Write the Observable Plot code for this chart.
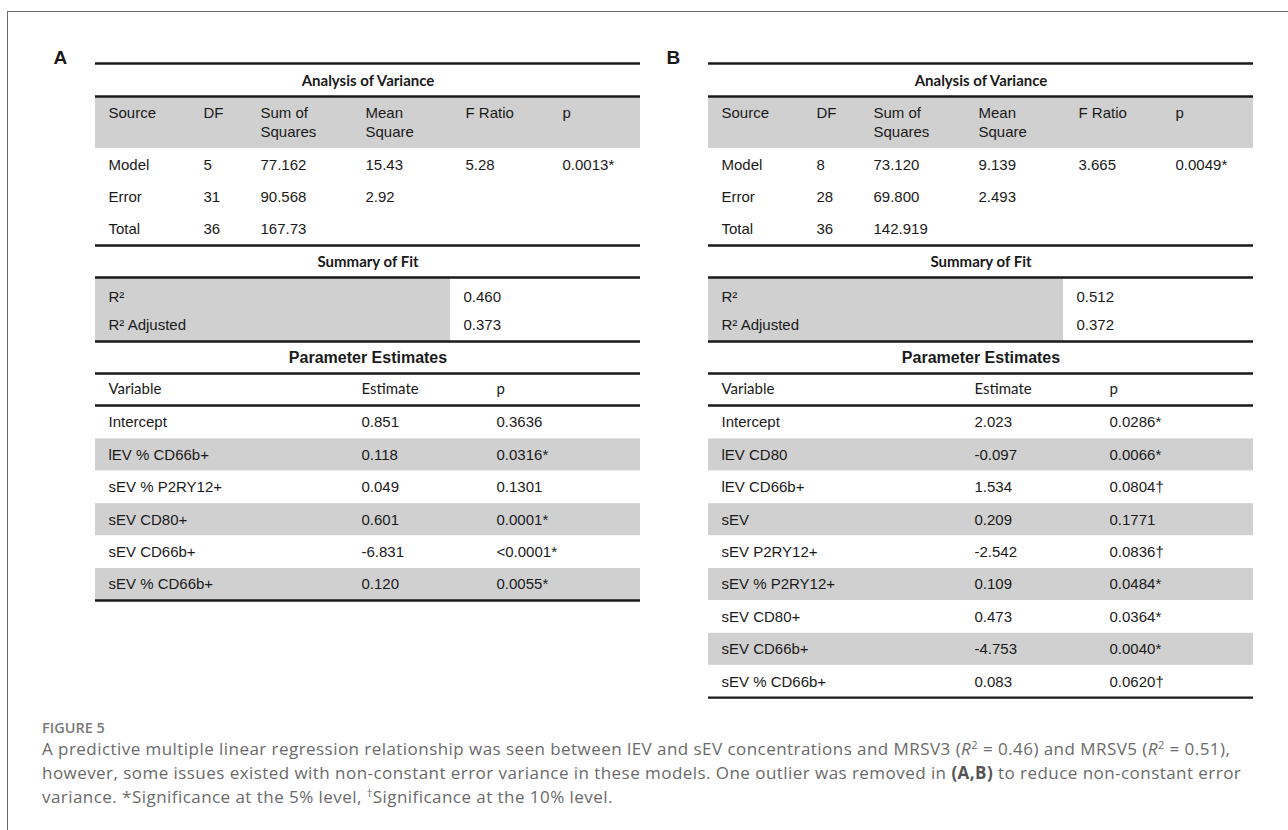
<!DOCTYPE html>
<html><head><meta charset="utf-8">
<script src="https://cdn.jsdelivr.net/npm/d3@7"></script>
<script src="https://cdn.jsdelivr.net/npm/@observablehq/plot@0.6"></script>
<style>
body{margin:0;background:#fff;width:1288px;height:830px;overflow:hidden;position:relative;}
#frame{position:absolute;left:7px;top:11px;width:1300px;height:840px;border-left:1px solid #6a6a6a;border-top:1px solid #6a6a6a;}
#chart{position:absolute;left:0;top:0;}
#caption{position:absolute;left:42px;top:717px;font-family:"Open Sans",sans-serif;color:#6a6a6a;white-space:nowrap;}
#caption .fig{font-size:14.5px;font-weight:600;color:#7a7a7a;line-height:22px;}
#caption .txt{font-size:17px;letter-spacing:0.45px;line-height:24px;margin-top:-2px;}
#caption sup{font-size:0.65em;line-height:0;vertical-align:0;position:relative;top:-0.55em;}
#caption b{color:#555;font-weight:700;}
</style></head>
<body>
<div id="frame"></div>
<div id="chart"></div>
<div id="caption">
<div class="fig">FIGURE 5</div>
<div class="txt">A predictive multiple linear regression relationship was seen between lEV and sEV concentrations and MRSV3 (<i>R</i><sup>2</sup> = 0.46) and MRSV5 (<i>R</i><sup>2</sup> = 0.51),<br>however, some issues existed with non-constant error variance in these models. One outlier was removed in <b>(A,B)</b> to reduce non-constant error<br>variance. *Significance at the 5% level, <sup>†</sup>Significance at the 10% level.</div>
</div>
<script>
// ---------- data ----------
const panelLabels = ["A", "B"];
const sectionTitles = ["Analysis of Variance", "Summary of Fit", "Parameter Estimates"];
const anovaHeaders = ["Source", "DF", "Sum of\nSquares", "Mean\nSquare", "F Ratio", "p"];
const anovaA = [
  ["Model", "5", "77.162", "15.43", "5.28", "0.0013*"],
  ["Error", "31", "90.568", "2.92", "", ""],
  ["Total", "36", "167.73", "", "", ""]
];
const anovaB = [
  ["Model", "8", "73.120", "9.139", "3.665", "0.0049*"],
  ["Error", "28", "69.800", "2.493", "", ""],
  ["Total", "36", "142.919", "", "", ""]
];
const fitLabels = ["R²", "R² Adjusted"];
const fitA = ["0.460", "0.373"];
const fitB = ["0.512", "0.372"];
const paramHeaders = ["Variable", "Estimate", "p"];
const varsA = ["Intercept", "lEV % CD66b+", "sEV % P2RY12+", "sEV CD80+", "sEV CD66b+", "sEV % CD66b+"];
const estA = ["0.851", "0.118", "0.049", "0.601", "-6.831", "0.120"];
const pA = ["0.3636", "0.0316*", "0.1301", "0.0001*", "<0.0001*", "0.0055*"];
const varsB = ["Intercept", "lEV CD80", "lEV CD66b+", "sEV", "sEV P2RY12+", "sEV % P2RY12+", "sEV CD80+", "sEV CD66b+", "sEV % CD66b+"];
const estB = ["2.023", "-0.097", "1.534", "0.209", "-2.542", "0.109", "0.473", "-4.753", "0.083"];
const pB = ["0.0286*", "0.0066*", "0.0804†", "0.1771", "0.0836†", "0.0484*", "0.0364*", "0.0040*", "0.0620†"];

// ---------- layout ----------
const L = {
  panelLeft: [95, 708], tableW: 545, labelDx: -42, labelY: 57,
  topRule: 63, title1Y: 81, bandTop: 96, bandBot: 148, head1Y: 113, head2Y: 132,
  anovaY0: 165, anovaPitch: 32, rule2: 245, title2Y: 262, fitTop: 277, fitY0: 297, fitPitch: 28,
  fitBot: 341, title3Y: 357, rule4: 373, paramHeadY: 389, rule5: 405,
  paramY0: 422, paramPitch: 32.4, rowHalf: 16,
  anovaCols: [13, 108, 165, 270, 370, 467], fitSplit: 355, fitValX: 368, paramCols: [13, 266, 401]
};
const ink = "#1a1a1a", gray = "#d0d0d0";
const arial = "'Liberation Sans', Arial, sans-serif", calibri = "Lato, 'Open Sans', sans-serif";

function panelMarks(p, anova, fit, vars, est, pv) {
  const x0 = L.panelLeft[p], x1 = x0 + L.tableW, cx = (x0 + x1) / 2;
  const rowY = i => L.paramY0 + i * L.paramPitch;
  const lastBottom = rowY(vars.length - 1) + L.rowHalf;
  const rules = [L.topRule, L.bandTop, L.rule2, L.fitTop, L.fitBot, L.rule4, L.rule5, lastBottom].map(y => ({y}));
  const grayRows = vars.map((v, i) => i).filter(i => i % 2 === 1).map(i => ({y1: rowY(i) - L.rowHalf, y2: rowY(i) + L.rowHalf}));
  const anovaCells = anova.flatMap((row, r) => row.map((t, c) => ({x: x0 + L.anovaCols[c], y: L.anovaY0 + r * L.anovaPitch, t})));
  const headCells = anovaHeaders.map((h, c) => ({x: x0 + L.anovaCols[c], a: h.split("\n")[0], b: h.split("\n")[1] || ""}));
  const fitCells = fitLabels.map((f, i) => ({y: L.fitY0 + i * L.fitPitch, f, v: fit[i]}));
  const paramCells = vars.flatMap((v, i) => [v, est[i], pv[i]].map((t, c) => ({x: x0 + L.paramCols[c], y: rowY(i), t})));
  const paramHead = paramHeaders.map((t, c) => ({x: x0 + L.paramCols[c], t}));
  const common = {textAnchor: "start", fill: ink};
  return [
    Plot.rect([{}], {x1: x0, x2: x1, y1: L.bandTop, y2: L.bandBot, fill: gray}),
    Plot.rect([{}], {x1: x0, x2: x0 + L.fitSplit, y1: L.fitTop, y2: L.fitBot, fill: gray}),
    Plot.rect(grayRows, {x1: x0, x2: x1, y1: "y1", y2: "y2", fill: gray}),
    Plot.ruleY(rules, {y: "y", x1: x0, x2: x1, stroke: ink, strokeWidth: 2.3}),
    Plot.text([panelLabels[p]], {x: x0 + L.labelDx, y: L.labelY, text: d => d, ...common, fontFamily: arial, fontWeight: "bold", fontSize: 19}),
    Plot.text([sectionTitles[0]], {x: cx, y: L.title1Y, text: d => d, fill: ink, fontFamily: calibri, fontWeight: "bold", fontSize: 15}),
    Plot.text([sectionTitles[1]], {x: cx, y: L.title2Y, text: d => d, fill: ink, fontFamily: calibri, fontWeight: "bold", fontSize: 15}),
    Plot.text([sectionTitles[2]], {x: cx, y: L.title3Y, text: d => d, fill: ink, fontFamily: arial, fontWeight: "bold", fontSize: 16}),
    Plot.text(headCells, {x: "x", y: L.head1Y, text: "a", ...common, fontFamily: arial, fontSize: 15}),
    Plot.text(headCells, {x: "x", y: L.head2Y, text: "b", ...common, fontFamily: arial, fontSize: 15}),
    Plot.text(anovaCells, {x: "x", y: "y", text: "t", ...common, fontFamily: arial, fontSize: 15}),
    Plot.text(fitCells, {x: x0 + 13, y: "y", text: "f", ...common, fontFamily: arial, fontSize: 15}),
    Plot.text(fitCells, {x: x0 + L.fitValX, y: "y", text: "v", ...common, fontFamily: arial, fontSize: 15}),
    Plot.text(paramHead, {x: "x", y: L.paramHeadY, text: "t", ...common, fontFamily: calibri, fontSize: 15}),
    Plot.text(paramCells, {x: "x", y: "y", text: "t", ...common, fontFamily: arial, fontSize: 15})
  ];
}

const chart = Plot.plot({
  width: 1288, height: 710, margin: 0,
  x: {type: "identity", axis: null},
  y: {type: "identity", axis: null},
  style: {background: "transparent"},
  marks: [
    ...panelMarks(0, anovaA, fitA, varsA, estA, pA),
    ...panelMarks(1, anovaB, fitB, varsB, estB, pB)
  ]
});
document.getElementById("chart").appendChild(chart);
</script>
</body></html>
